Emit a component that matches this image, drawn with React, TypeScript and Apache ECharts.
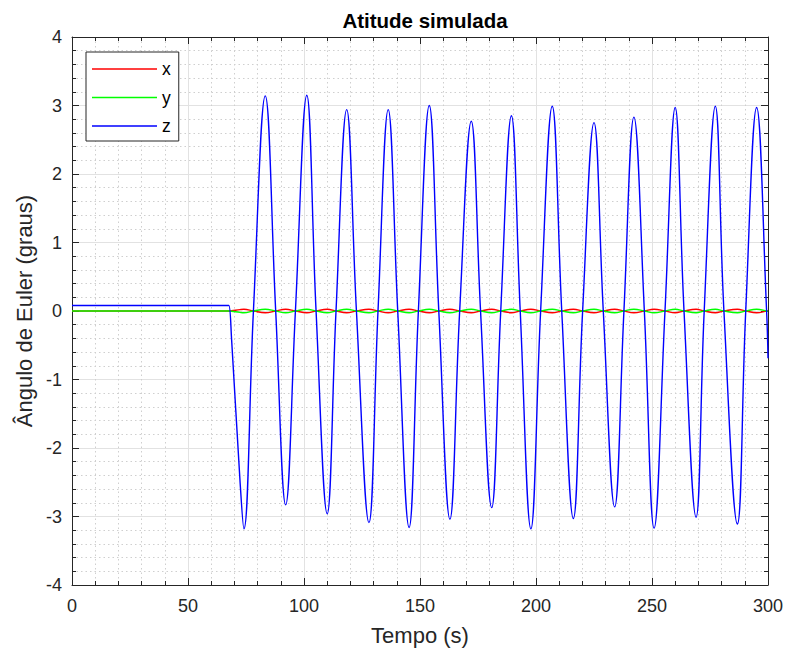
import React, { useEffect, useRef } from "react";
import * as echarts from "echarts";

// Time instants (s): flat start, then extrema and zero crossings
const tempo = [
  0, 67.0, 67.6, 68.8, 72.4, 74.1, 78.2, 83.3, 87.8, 92.1, 96.3, 101.2, 105.2, 110.0,
  113.8, 118.4, 122.6, 128.0, 131.9, 136.3, 140.4, 145.3, 149.3, 154.0, 158.1, 162.9,
  167.1, 172.1, 176.1, 180.9, 184.8, 189.4, 193.2, 197.8, 202.0, 207.0, 211.1, 216.1,
  220.1, 225.0, 229.0, 233.9, 237.9, 242.2, 246.7, 250.9, 255.6, 260.0, 263.8, 269.0,
  272.5, 277.3, 281.0, 286.8, 290.4, 295.1, 299.4, 300.0,
];

// Euler angle z (graus)
const anguloZ = [
  0.08, 0.08, 0.08, -0.42, -2.47, -3.18, 0, 3.14, 0, -2.83, 0, 3.15, 0, -2.96,
  0, 2.94, 0, -3.09, 0, 2.94, 0, -3.16, 0, 3.0, 0, -3.04,
  0, 2.77, 0, -2.87, 0, 2.85, 0, -3.18, 0, 2.99, 0, -3.03,
  0, 2.75, 0, -2.86, 0, 2.83, 0, -3.17, 0, 2.97, 0, -3.01,
  0, 2.99, 0, -3.11, 0, 2.97, 0, -0.69,
];

// Euler angle x (graus)
const anguloX = [
  0, 0, 0, 0.004, 0.02, 0.025, 0, -0.025, 0, 0.025, 0, -0.025, 0, 0.025,
  0, -0.025, 0, 0.025, 0, -0.025, 0, 0.025, 0, -0.025, 0, 0.025,
  0, -0.025, 0, 0.025, 0, -0.025, 0, 0.025, 0, -0.025, 0, 0.025,
  0, -0.025, 0, 0.025, 0, -0.025, 0, 0.025, 0, -0.025, 0, 0.025,
  0, -0.025, 0, 0.025, 0, -0.025, 0, 0.005,
];

// Euler angle y (graus)
const anguloY = [
  0, 0, 0, -0.004, -0.02, -0.025, 0, 0.025, 0, -0.025, 0, 0.025, 0, -0.025,
  0, 0.025, 0, -0.025, 0, 0.025, 0, -0.025, 0, 0.025, 0, -0.025,
  0, 0.025, 0, -0.025, 0, 0.025, 0, -0.025, 0, 0.025, 0, -0.025,
  0, 0.025, 0, -0.025, 0, 0.025, 0, -0.025, 0, 0.025, 0, -0.025,
  0, 0.025, 0, -0.025, 0, 0.025, 0, -0.005,
];

const seriesNames = ["x", "y", "z"];
const seriesColors = ["#ff0000", "#00ff00", "#0000ff"];

const FONT = "Liberation Sans, Arial, Helvetica, sans-serif";
const AX = "#262626";

export default function App() {
  const ref = useRef<HTMLDivElement>(null);
  useEffect(() => {
    if (!ref.current) return;
    const chart = echarts.init(ref.current, undefined, { renderer: "svg" });
    const pairs = (vals: number[]) => tempo.map((t, i) => [t, vals[i]]);
    const values = [anguloX, anguloY, anguloZ];

    const baseAxis = {
      axisLine: { show: true, onZero: false, lineStyle: { color: AX, width: 1 } },
      axisTick: { show: true, inside: true, length: 7, lineStyle: { color: AX } },
      minorTick: { show: true, splitNumber: 5, length: 4, lineStyle: { color: AX } },
    };

    chart.setOption({
      animation: false,
      backgroundColor: "#ffffff",
      title: {
        text: "Atitude simulada",
        left: 420,
        top: 5,
        textAlign: "center",
        textStyle: { fontFamily: FONT, fontSize: 20.5, fontWeight: "bold", color: "#000" },
      },
      legend: {
        orient: "vertical",
        left: 86,
        top: 52,
        padding: [8, 8, 6, 6],
        itemGap: 10.5,
        itemWidth: 65,
        itemHeight: 1.4,
        icon: "rect",
        borderColor: AX,
        borderWidth: 1,
        borderRadius: 0,
        backgroundColor: "#ffffff",
        data: seriesNames,
        textStyle: { fontFamily: FONT, fontSize: 17.5, color: "#000" },
      },
      grid: { left: 72, top: 37, width: 696, height: 548, containLabel: false },
      xAxis: [
        {
          ...baseAxis,
          type: "value",
          min: 0,
          max: 300,
          interval: 50,
          position: "bottom",
          name: "Tempo (s)",
          nameLocation: "middle",
          nameGap: 39,
          nameTextStyle: { fontFamily: FONT, fontSize: 22, color: AX },
          axisLabel: { margin: 12, fontFamily: FONT, fontSize: 18, color: AX },
          splitLine: { show: true, lineStyle: { color: "#e2e2e2", width: 1 } },
          minorSplitLine: { show: true, lineStyle: { color: "#cfcfcf", width: 1, type: [1.5, 3] } },
        },
        {
          ...baseAxis,
          type: "value",
          min: 0,
          max: 300,
          interval: 50,
          position: "top",
          axisLabel: { show: false },
          splitLine: { show: false },
        },
      ],
      yAxis: [
        {
          ...baseAxis,
          type: "value",
          min: -4,
          max: 4,
          interval: 1,
          position: "left",
          name: "Ângulo de Euler (graus)",
          nameLocation: "middle",
          nameGap: 36,
          nameTextStyle: { fontFamily: FONT, fontSize: 22, color: AX },
          axisLabel: { margin: 10, fontFamily: FONT, fontSize: 18, color: AX },
          splitLine: { show: true, lineStyle: { color: "#e2e2e2", width: 1 } },
          minorSplitLine: { show: true, lineStyle: { color: "#cfcfcf", width: 1, type: [1.5, 3] } },
        },
        {
          ...baseAxis,
          type: "value",
          min: -4,
          max: 4,
          interval: 1,
          position: "right",
          axisLabel: { show: false },
          splitLine: { show: false },
        },
      ],
      series: seriesNames.map((name, i) => ({
        name,
        type: "line",
        xAxisIndex: 0,
        yAxisIndex: 0,
        data: pairs(values[i]),
        symbol: "none",
        smooth: 0.42,
        itemStyle: { color: seriesColors[i] },
        lineStyle: { color: seriesColors[i], width: 1.4 },
        emphasis: { disabled: true },
        z: 2 + i,
      })),
    });
    return () => chart.dispose();
  }, []);
  return (
    <div
      ref={ref}
      style={{ position: "absolute", left: 0, top: 0, width: 787, height: 653 }}
    />
  );
}
